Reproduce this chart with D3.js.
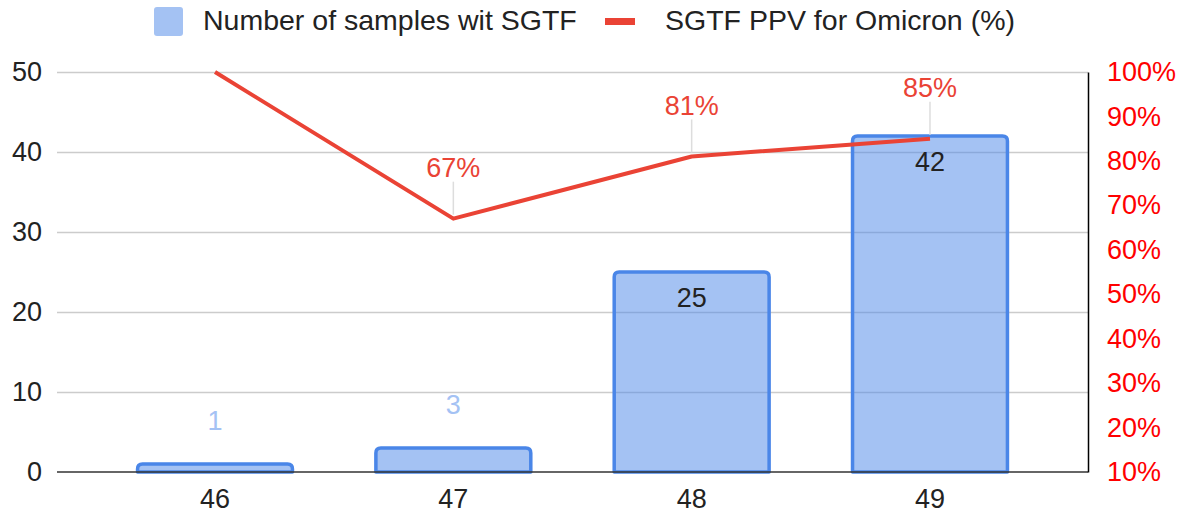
<!DOCTYPE html>
<html><head><meta charset="utf-8">
<script src="https://cdn.jsdelivr.net/npm/d3@7"></script>
<style>
html,body{margin:0;padding:0;background:#fff;}
text{font-family:"Liberation Sans",Arial,sans-serif;}
</style></head>
<body><svg id="chart" width="1185" height="519"></svg>
<script>
const weeks = ["46", "47", "48", "49"];
const samplesSGTF = [1, 3, 25, 42];
const ppvOmicron = [1.00, 0.67, 0.81, 0.85];
const ppvLabels = ["100%", "67%", "81%", "85%"];
const leftTicks = [0, 10, 20, 30, 40, 50];
const rightTicks = [0.1, 0.2, 0.3, 0.4, 0.5, 0.6, 0.7, 0.8, 0.9, 1.0];
const seriesNames = ["Number of samples wit SGTF", "SGTF PPV for Omicron (%)"];

const svg = d3.select("#chart");
const L = 57, R = 1088, T = 72, B = 472;
const FS = 27, LFS = 28.5;
const barFill = "#4a86e8", red = "#ea4335";

const x = d3.scaleBand().domain(weeks).range([L, R]).paddingInner(0.35).paddingOuter(0.338);
const yL = d3.scaleLinear().domain([0, 50]).range([B, T]);
const yR = d3.scaleLinear().domain([0.1, 1.0]).range([B, T]);

// gridlines
const gAxisL = svg.append("g").attr("transform", `translate(${L},0)`)
  .call(d3.axisLeft(yL).tickValues(leftTicks).tickSize(-(R - L)).tickPadding(15));
gAxisL.select(".domain").remove();
gAxisL.selectAll(".tick line").attr("stroke", "#cccccc").attr("stroke-width", 1.5)
  .attr("display", d => d === 0 ? "none" : null);
gAxisL.selectAll(".tick text").attr("fill", "#222").style("font-size", FS + "px")
  .style("font-family", '"Liberation Sans",Arial,sans-serif');

// bars with rounded tops
const rr = 5;
function barPath(d, i) {
  const x0 = x(weeks[i]), w = x.bandwidth(), y0 = yL(d), yb = yL(0);
  const r = Math.min(rr, (yb - y0));
  return `M${x0},${yb} L${x0},${y0 + r} Q${x0},${y0} ${x0 + r},${y0} L${x0 + w - r},${y0} Q${x0 + w},${y0} ${x0 + w},${y0 + r} L${x0 + w},${yb} Z`;
}
svg.append("g").selectAll("path").data(samplesSGTF).join("path")
  .attr("d", barPath)
  .attr("fill", barFill).attr("fill-opacity", 0.5)
  .attr("stroke", barFill).attr("stroke-width", 3.5).attr("stroke-linejoin", "round");

// x axis
const gX = svg.append("g").attr("transform", `translate(0,${B})`)
  .call(d3.axisBottom(x).tickSize(0).tickPadding(17));
gX.select(".domain").attr("stroke", "#333").attr("stroke-width", 1.5)
  .attr("d", `M${L},0H${R}`);
gX.selectAll(".tick text").attr("fill", "#222").style("font-size", FS + "px")
  .style("font-family", '"Liberation Sans",Arial,sans-serif');

// right axis
const gR = svg.append("g").attr("transform", `translate(${R},0)`)
  .call(d3.axisRight(yR).tickValues(rightTicks).tickFormat(d3.format(".0%")).tickSize(0).tickPadding(19));
gR.select(".domain").attr("stroke", "#000").attr("stroke-width", 1.5);
gR.selectAll(".tick text").attr("fill", "#ff0000").style("font-size", FS + "px")
  .style("font-family", '"Liberation Sans",Arial,sans-serif');

// bar value labels
const cx = i => x(weeks[i]) + x.bandwidth() / 2;
svg.append("g").selectAll("text").data(samplesSGTF).join("text")
  .attr("x", (d, i) => cx(i))
  .attr("y", d => (yL(0) - yL(d) > 50) ? yL(d) + 26 : yL(d) - 43)
  .attr("dy", "0.35em").attr("text-anchor", "middle")
  .attr("fill", d => (yL(0) - yL(d) > 50) ? "#222" : "#a4c2f4")
  .style("font-size", FS + "px")
  .text(d => d);

// line
const line = d3.line().x((d, i) => cx(i)).y(d => yR(d));
svg.append("path").datum(ppvOmicron).attr("d", line)
  .attr("fill", "none").attr("stroke", red).attr("stroke-width", 4)
  .attr("stroke-linejoin", "round");

// line labels with leaders (first point label hidden by the chart top)
const lblIdx = [1, 2, 3];
svg.append("g").selectAll("line").data(lblIdx).join("line")
  .attr("x1", i => cx(i)).attr("x2", i => cx(i))
  .attr("y1", i => yR(ppvOmicron[i]) - 37).attr("y2", i => yR(ppvOmicron[i]) - 4)
  .attr("stroke", "#dddddd").attr("stroke-width", 1.5);
svg.append("g").selectAll("text").data(lblIdx).join("text")
  .attr("x", i => cx(i)).attr("y", i => yR(ppvOmicron[i]) - 51)
  .attr("dy", "0.35em").attr("text-anchor", "middle")
  .attr("fill", red).style("font-size", FS + "px")
  .text(i => ppvLabels[i]);

// legend
const lg = svg.append("g");
lg.append("rect").attr("x", 154).attr("y", 7).attr("width", 29).attr("height", 29)
  .attr("rx", 3).attr("fill", barFill).attr("fill-opacity", 0.5);
lg.append("text").attr("x", 203).attr("y", 30).attr("fill", "#222")
  .style("font-size", LFS + "px").text(seriesNames[0]);
lg.append("rect").attr("x", 605).attr("y", 18).attr("width", 30).attr("height", 7)
  .attr("fill", red);
lg.append("text").attr("x", 665).attr("y", 30).attr("fill", "#222")
  .style("font-size", LFS + "px").text(seriesNames[1]);
</script></body></html>
